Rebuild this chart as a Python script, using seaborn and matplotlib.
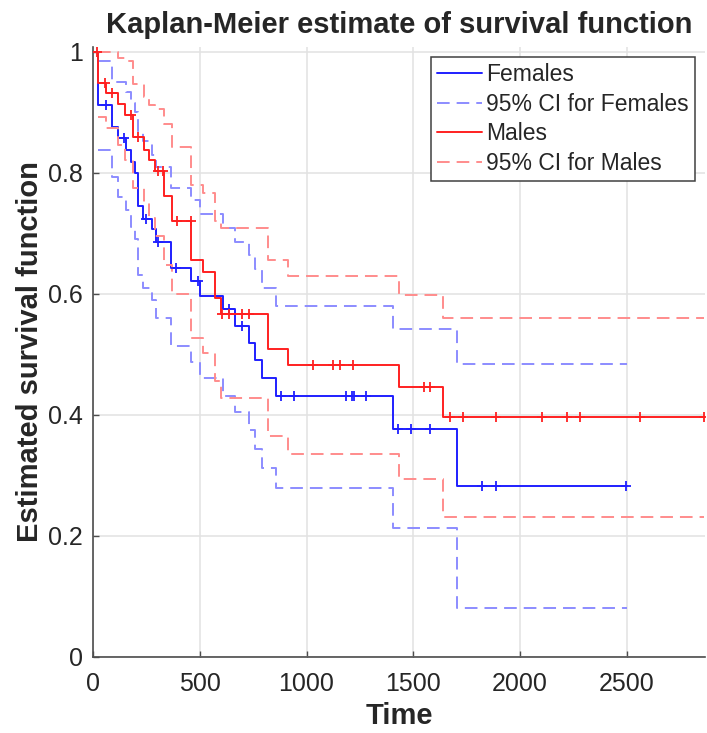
import numpy as np
import pandas as pd
import matplotlib
matplotlib.use('Agg')
import matplotlib.pyplot as plt
import matplotlib.ticker as mtick
import seaborn as sns

# ---- Females: KM step times / survival levels
fem_t = [0, 25, 87, 119, 153, 178, 197, 212, 232, 275, 296, 365, 459, 500,
         608, 665, 730, 759, 790, 855, 1403, 1704]
fem_s = [1.0, 0.912, 0.875, 0.857, 0.838, 0.817, 0.800, 0.745, 0.724, 0.707,
         0.686, 0.643, 0.620, 0.596, 0.574, 0.547, 0.518, 0.491, 0.461, 0.430,
         0.376, 0.282]
# 95% CI, one value per step starting at fem_t[1]
fem_ci_up = [0.985, 0.950, 0.949, 0.933, 0.915, 0.900, 0.865, 0.852, 0.829,
             0.810, 0.774, 0.755, 0.732, 0.708, 0.686, 0.664, 0.640, 0.609,
             0.579, 0.541, 0.484]
fem_ci_lo = [0.838, 0.793, 0.760, 0.738, 0.710, 0.690, 0.631, 0.609, 0.590,
             0.560, 0.513, 0.487, 0.461, 0.431, 0.405, 0.375, 0.343, 0.311,
             0.278, 0.213, 0.080]
fem_cens = [59, 147, 246, 305, 387, 490, 639, 697, 881, 943, 1184, 1215, 1222,
            1278, 1426, 1490, 1579, 1824, 1887, 2498]
fem_end = 2500

# ---- Males
male_t = [0, 25, 60, 119, 151, 186, 238, 262, 290, 334, 372, 459, 517, 572,
          600, 820, 912, 1431, 1641]
male_s = [1.0, 0.948, 0.932, 0.914, 0.895, 0.859, 0.838, 0.820, 0.802, 0.761,
          0.720, 0.655, 0.636, 0.593, 0.567, 0.509, 0.482, 0.446, 0.396]
male_ci_up = [1.0, 1.0, 0.990, 0.985, 0.946, 0.925, 0.912, 0.905, 0.881, 0.842,
              0.780, 0.767, 0.720, 0.708, 0.655, 0.629, 0.598, 0.559]
male_ci_lo = [0.892, 0.873, 0.845, 0.820, 0.775, 0.750, 0.725, 0.695, 0.648,
              0.600, 0.526, 0.502, 0.455, 0.428, 0.365, 0.335, 0.293, 0.231]
male_cens = [20, 56, 90, 180, 212, 303, 330, 395, 457, 605, 637, 699, 730,
             1032, 1126, 1157, 1217, 1548, 1579, 1673, 1735, 1887, 2102, 2220,
             2282, 2560, 2860]
male_end = 2860


def step_df(t, s, t_end):
    '''stairs data: repeat last level up to the end time'''
    return pd.DataFrame({'time': list(t) + [t_end],
                         'surv': list(s) + [s[-1]]})


def censor_y(cens, t, s):
    idx = np.searchsorted(np.asarray(t), np.asarray(cens), side='right') - 1
    return np.asarray(s)[idx]


sns.set_theme(style='whitegrid')
plt.rcParams['font.family'] = ['Liberation Sans', 'DejaVu Sans']

fig = plt.figure(figsize=(7.07, 7.33), dpi=100)
ax = fig.add_axes([0.1315, 0.1041, 0.8657, 0.8322])
ax.set_facecolor('white')

dash = (0, (6.5, 3.6))
groups = [
    ('Females', fem_t, fem_s, fem_ci_up, fem_ci_lo, fem_cens, fem_end,
     '#1f1fff', '#8c8cff'),
    ('Males', male_t, male_s, male_ci_up, male_ci_lo, male_cens, male_end,
     '#ff2020', '#ff8c8c'),
]

for name, t, s, up, lo, cens, t_end, c_main, c_ci in groups:
    sns.lineplot(data=step_df(t, s, t_end), x='time', y='surv', ax=ax,
                 drawstyle='steps-post', estimator=None, sort=False,
                 color=c_main, lw=1.4, label=name)
    sns.scatterplot(x=cens, y=censor_y(cens, t, s), ax=ax, marker='+',
                    s=60, color=c_main, linewidth=1.3, legend=False, zorder=3)
    sns.lineplot(data=step_df(t[1:], up, t_end), x='time', y='surv', ax=ax,
                 drawstyle='steps-post', estimator=None, sort=False,
                 color=c_ci, lw=1.4, linestyle=dash,
                 label=f'95% CI for {name}')
    sns.lineplot(data=step_df(t[1:], lo, t_end), x='time', y='surv', ax=ax,
                 drawstyle='steps-post', estimator=None, sort=False,
                 color=c_ci, lw=1.4, linestyle=dash)

# axes settings
ax.set_xlim(0, 2866)
ax.set_ylim(0, 1.008)
ax.set_xticks([0, 500, 1000, 1500, 2000, 2500])
ax.set_yticks([0, 0.2, 0.4, 0.6, 0.8, 1.0])
ax.yaxis.set_major_formatter(mtick.FuncFormatter(lambda v, p: f'{v:g}'))
ax.grid(True, color='#e2e2e2', lw=1.1)
for side in ['top', 'right']:
    ax.spines[side].set_visible(False)
for side in ['left', 'bottom']:
    ax.spines[side].set_color('#4d4d4d')
    ax.spines[side].set_linewidth(1.2)
ax.tick_params(direction='in', length=4, width=1, color='#4d4d4d',
               labelsize=18, labelcolor='#262626', left=True, bottom=True)
ax.tick_params(axis='x', pad=11)
ax.tick_params(axis='y', pad=7)

ax.set_title('Kaplan-Meier estimate of survival function', fontsize=21,
             fontweight='bold', pad=10)
ax.set_xlabel('Time', fontsize=21, fontweight='bold', labelpad=4)
ax.set_ylabel('Estimated survival function', fontsize=21, fontweight='bold',
              labelpad=3)

leg = ax.legend(loc='upper right', fontsize=16.5, frameon=True, fancybox=False,
                framealpha=1, edgecolor='#404040', handlelength=1.95,
                labelspacing=0.3, borderaxespad=0.45, handletextpad=0.2,
                borderpad=0.25)
leg.get_frame().set_linewidth(1.1)

plt.savefig('out.png', dpi=100)
plt.close(fig)
